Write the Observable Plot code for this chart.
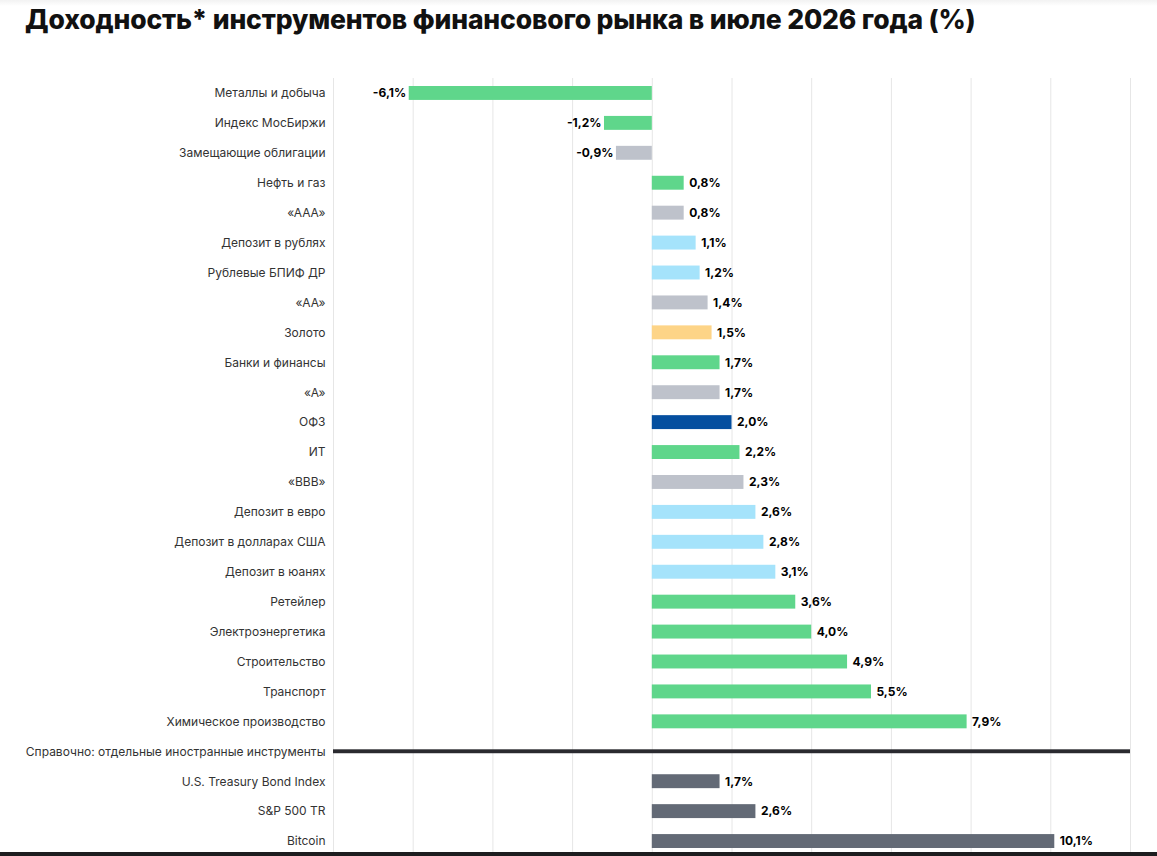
<!DOCTYPE html>
<html><head><meta charset="utf-8">
<script src="https://cdn.jsdelivr.net/npm/d3@7"></script>
<script src="https://cdn.jsdelivr.net/npm/@observablehq/plot@0.6"></script>
<style>
body{margin:0;background:#fff;font-family:Inter,"Noto Sans",sans-serif;}
#title{height:50px;box-sizing:border-box;padding:3px 0 0 25px;font-size:26.5px;font-weight:800;color:#111;letter-spacing:-0.15px;background:linear-gradient(#f2f2f2 0,#fff 6px);white-space:nowrap;}
#chart{position:relative;}
#bottom{position:absolute;left:0;top:852px;width:1157px;height:4px;background:#1d1d1f;}
</style></head>
<body>
<div id="title">Доходность* инструментов финансового рынка в июле 2026 года (%)</div>
<div id="chart"></div>
<div id="bottom"></div>
<script>
const categories = ["Металлы и добыча","Индекс МосБиржи","Замещающие облигации","Нефть и газ","«ААА»","Депозит в рублях","Рублевые БПИФ ДР","«АА»","Золото","Банки и финансы","«А»","ОФЗ","ИТ","«BBB»","Депозит в евро","Депозит в долларах США","Депозит в юанях","Ретейлер","Электроэнергетика","Строительство","Транспорт","Химическое производство","Справочно: отдельные иностранные инструменты","U.S. Treasury Bond Index","S&P 500 TR","Bitcoin"];
const values = [-6.1,-1.2,-0.9,0.8,0.8,1.1,1.2,1.4,1.5,1.7,1.7,2.0,2.2,2.3,2.6,2.8,3.1,3.6,4.0,4.9,5.5,7.9,null,1.7,2.6,10.1];
const groups = ["sector","index","bond","sector","bond","deposit","deposit","bond","gold","sector","bond","ofz","sector","bond","deposit","deposit","deposit","sector","sector","sector","sector","sector","separator","foreign","foreign","foreign"];
const groupNames = ["sector","index","bond","deposit","gold","ofz","foreign"];
const groupColors = ["#5fd68b","#5fd68b","#bec2cb","#a5e3fb","#fdd487","#054f9f","#636a76"];
const xTicks = [-8,-6,-4,-2,0,2,4,6,8,10,12];

const rows = categories.map((c,i)=>({cat:c,value:values[i],group:groups[i]}));
const barsData = rows.filter(d=>d.value!=null);
const sep = rows.filter(d=>d.group==="separator");
const fmt = v => (v.toFixed(1)).replace(".",",")+"%";

const plot = Plot.plot({
  width:1157, height:806,
  marginLeft:333, marginRight:27, marginTop:28, marginBottom:0,
  style:{fontFamily:"Inter, 'Noto Sans', sans-serif", fontSize:"12px", color:"#333"},
  x:{domain:[-8,12], axis:null},
  y:{domain:categories, padding:0, round:false, label:null},
  color:{domain:groupNames, range:groupColors},
  marks:[
    Plot.gridX(xTicks,{stroke:"#e6e6e6", strokeOpacity:1}),
    Plot.axisY({tickSize:0, tickPadding:8, fontSize:12, fill:"#333", label:null}),
    Plot.barX(barsData,{x:"value", y:"cat", fill:"group", insetTop:8, insetBottom:8}),
    Plot.barX(sep,{x1:()=>-8, x2:()=>12, y:"cat", fill:"#2a2a2f", insetTop:13, insetBottom:13}),
    Plot.text(barsData.filter(d=>d.value>=0),{x:"value", y:"cat", text:d=>fmt(d.value), textAnchor:"start", dx:5, fontWeight:700, fontSize:12, fill:"#000"}),
    Plot.text(barsData.filter(d=>d.value<0),{x:"value", y:"cat", text:d=>fmt(d.value), textAnchor:"end", dx:-3, fontWeight:700, fontSize:12, fill:"#000"})
  ]
});
document.getElementById("chart").appendChild(plot);
</script>
</body></html>
